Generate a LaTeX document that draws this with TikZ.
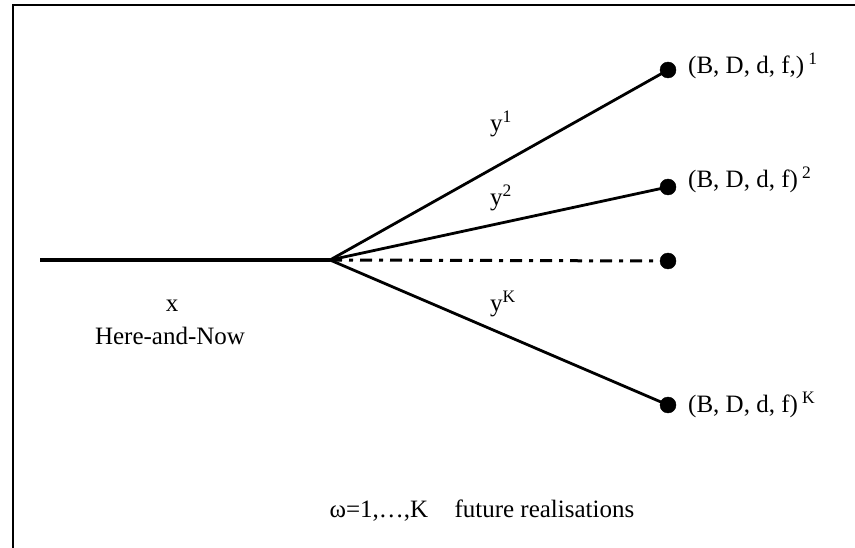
\documentclass[tikz,border=0pt]{standalone}
\usepackage{fontspec}
\setmainfont{Liberation Serif}
\usetikzlibrary{arrows}
\usetikzlibrary{shapes}

\begin{document}
\begin{tikzpicture}[x=1pt,y=-1pt,
		leaf/.style={draw,fill=black,circle,inner sep=0pt,minimum size=16pt},
		branch/.style={line width=2.8pt},
		lbl/.style={font=\fontsize{25}{30}\selectfont,inner sep=0pt},
		outcome/.style={lbl,anchor=base west}]
			\clip (0,0) rectangle (855,548);
			\useasboundingbox (0,0) rectangle (855,548);
			\draw[line width=2pt] (13,5) rectangle (870,560);
		%% the tree
			\coordinate (root) at (40,260);
			\coordinate (hub) at (330,260);
			\node[leaf] (w1) at (668,70) {};
			\node[leaf] (w2) at (668,187) {};
			\node[leaf] (wd) at (668,261) {};
			\node[leaf] (wK) at (668,405) {};
			\draw[line width=4pt] (root) -- (hub);
			\draw[branch] (hub) -- (w1.center);
			\draw[branch] (hub) -- (w2.center);
			\draw[branch] (hub) -- (wK.center);
			\draw[line width=3pt,dash pattern=on 12pt off 7pt on 4pt off 7pt] (hub) -- (wd.west);
		%% labels
			\node[lbl] (y1) at (501,124) {y\textsuperscript{1}};
			\node[lbl] (y2) at (501,198) {y\textsuperscript{2}};
			\node[lbl] (yK) at (503,304) {y\textsuperscript{K}};
			\node[lbl] (x) at (172,306) {x};
			\node[lbl] (hn) at (170,336) {Here-and-Now};
			\node[outcome] (o1) at (688,74) {(B, D, d, f,)\,\textsuperscript{1}};
			\node[outcome] (o2) at (688,188) {(B, D, d, f)\,\textsuperscript{2}};
			\node[outcome] (oK) at (688,413) {(B, D, d, f)\,\textsuperscript{K}};
			\node[lbl] (om) at (482,511) {ω=1,…,K\hspace{0.8em} future realisations};
		\end{tikzpicture}
\end{document}
